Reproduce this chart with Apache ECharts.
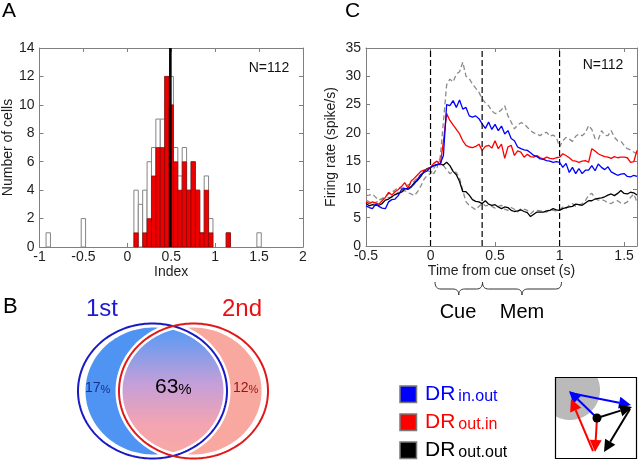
<!DOCTYPE html>
<html><head><meta charset="utf-8">
<script src="https://cdn.jsdelivr.net/npm/echarts@6/dist/echarts.min.js"></script>
<style>html,body{margin:0;padding:0;background:#fff}#c{width:640px;height:461px}</style>
</head><body><div id="c"></div>
<script>
// ---------- Panel A: histogram ----------
const histCenters=[-0.9,-0.5,0.1,0.15,0.2,0.25,0.3,0.35,0.4,0.45,0.5,0.55,0.6,0.65,0.7,0.75,0.8,0.85,0.9,0.95,1.15,1.5];
const allCounts=[1,2,4,3,4,6,7,9,9,12,12,7,5,7,4,6,4,1,5,2,1,1];
const sigCounts=[0,0,1,0,1,2,5,7,7,12,10,6,4,6,4,6,4,1,4,1,1,0];
const binW=0.05;
const medianIndex=0.49;
const xTicksA=[-1,2,0.5];
const yTicksA=[0,14,2];
// ---------- Panel C: firing rate ----------
const timeS=[-0.5,-0.475,-0.45,-0.425,-0.4,-0.375,-0.35,-0.325,-0.3,-0.275,-0.25,-0.225,-0.2,-0.175,-0.15,-0.125,-0.1,-0.075,-0.05,-0.025,
0,0.025,0.05,0.075,0.1,0.125,0.15,0.175,0.2,0.225,0.25,0.275,0.3,0.325,0.35,0.375,0.4,0.425,0.45,0.475,
0.5,0.525,0.55,0.575,0.6,0.625,0.65,0.675,0.7,0.725,0.75,0.775,0.8,0.825,0.85,0.875,0.9,0.925,0.95,0.975,
1,1.025,1.05,1.075,1.1,1.125,1.15,1.175,1.2,1.225,1.25,1.275,1.3,1.325,1.35,1.375,1.4,1.425,1.45,1.475,
1.5,1.525,1.55,1.575,1.6];
const blueInOut=[7.1,6.8,6.6,7.4,7.0,6.7,6.6,7.8,8.2,8.3,8.9,10.0,10.2,10.0,10.4,11.0,11.8,12.6,13.0,13.3,
13.9,14.2,14.4,14.5,16.0,25.0,24.8,25.7,24.5,25.8,24.2,24.5,23.0,22.8,23.0,22.5,21.6,20.8,21.9,20.6,
21.5,20.4,21.2,19.8,20.4,19.0,18.6,17.5,17.2,17.0,16.9,16.5,16.0,15.8,15.4,15.3,15.1,15.0,14.8,14.9,
14.8,13.9,14.6,13.0,13.9,12.8,13.7,12.8,13.4,13.4,14.2,13.3,14.5,13.9,13.5,14.0,13.1,12.8,12.5,12.7,
12.8,12.3,12.2,12.5,12.3];
const redOutIn=[7.8,7.5,7.8,7.6,7.4,8.0,8.6,9.5,9.0,9.6,10.0,10.5,11.2,10.2,11.5,12.0,12.6,13.2,13.4,13.6,
13.9,14.6,15.0,14.3,18.5,23.4,22.2,21.4,20.6,19.8,18.6,17.8,17.5,17.4,17.6,18.0,16.9,17.6,17.8,17.3,
18.6,17.2,18.0,15.5,17.5,17.8,16.0,16.8,16.6,15.7,16.2,15.8,15.7,16.0,15.6,15.4,15.7,15.5,15.4,15.6,
15.7,16.3,16.0,15.6,15.1,15.0,14.8,15.0,15.1,14.8,17.2,16.8,16.3,16.0,15.8,15.7,15.5,15.8,15.6,15.7,
15.7,15.6,14.8,14.9,16.9];
const blackOutOut=[7.5,7.1,7.3,7.2,7.2,7.5,8.1,8.3,8.7,9.1,9.3,9.5,10.1,10.2,10.5,11.2,11.6,12.3,13.2,13.7,
13.9,14.2,14.4,14.5,14.3,14.8,14.2,13.2,12.6,11.4,9.6,9.6,9.0,8.2,7.9,7.8,7.5,8.0,7.4,7.2,
7.3,6.9,6.6,6.9,6.8,6.3,6.1,6.2,6.4,6.1,5.9,5.2,5.6,6.0,6.0,6.0,6.2,6.3,6.6,6.4,
6.3,6.6,6.8,6.9,7.0,7.4,7.3,7.2,7.6,8.0,8.0,8.3,8.4,8.5,8.7,9.0,9.2,8.9,9.3,9.8,
9.3,9.2,9.5,9.4,9.0];
const grayUpper=[8.9,9.0,9.2,8.6,8.1,8.4,8.7,9.2,9.5,9.9,10.4,10.2,10.4,10.8,11.0,11.5,12.1,12.6,13.0,13.3,
13.1,12.8,13.8,15.7,22.0,28.5,29.5,29.0,30.4,30.8,32.5,30.0,29.6,28.6,27.9,27.2,26.0,25.3,24.8,23.9,
23.4,23.6,24.1,24.8,23.0,21.9,20.7,21.4,21.8,21.6,21.0,20.4,20.0,19.8,19.5,20.0,20.1,19.4,19.6,19.2,
17.5,18.6,19.2,18.9,18.5,19.4,19.8,19.5,20.0,21.3,20.6,19.0,18.8,20.4,19.6,19.5,20.4,19.2,18.6,18.5,
17.8,17.2,17.0,16.6,16.3];
const grayLower=[8.1,7.8,7.5,7.7,7.9,8.4,8.4,8.6,8.6,9.0,9.5,9.6,9.8,9.4,9.2,8.9,9.6,10.6,11.8,12.5,
12.8,13.7,14.6,15.1,14.2,13.5,12.8,13.1,13.0,12.0,9.8,7.8,7.2,6.8,6.4,7.0,7.5,7.1,7.2,7.0,
6.7,7.0,7.2,6.5,6.3,6.8,6.5,6.0,6.6,6.5,6.3,5.7,6.2,6.3,6.2,6.1,6.0,6.5,6.3,6.2,
6.4,6.9,6.6,7.2,7.5,7.0,7.2,7.5,8.0,9.0,9.3,8.5,8.1,8.2,8.0,7.6,7.5,7.9,8.0,7.6,
7.5,7.8,8.6,9.2,7.8];
const cueMarks=[0,0.4,1];
const xTicksC=[-0.5,1.6,0.5];
const yTicksC=[0,35,5];
// ---------- Panel B / legend text ----------
const vennLabels=['1st','2nd'];
const vennPct=['17','63','12'];
const legendNames=[['DR','in.out'],['DR','out.in'],['DR','out.out']];
const legendColors=['#0000ff','#ff0000','#000000'];

const FONT='"Liberation Sans", Arial, Helvetica, sans-serif';
const frameColor='#7f7f7f';
const labelColor='#1e1e1e';

function xAx(grid,ext,pos,show,name,gap){
  return {gridIndex:grid,type:'value',min:ext[0],max:ext[1],interval:ext[2],position:pos,
    axisLine:{show:true,onZero:false,lineStyle:{color:frameColor,width:1}},
    axisTick:{show:true,inside:true,length:4,lineStyle:{color:frameColor}},
    splitLine:{show:false},
    axisLabel:{show:show,fontSize:14,color:labelColor,margin:3,fontFamily:FONT,showMaxLabel:grid===0},
    name:name||'',nameLocation:'middle',nameGap:gap||0,
    nameTextStyle:{fontSize:14,color:labelColor,fontFamily:FONT}};
}
function yAx(grid,ext,pos,show,name,gap){
  return {gridIndex:grid,type:'value',min:ext[0],max:ext[1],interval:ext[2],position:pos,
    axisLine:{show:true,onZero:false,lineStyle:{color:frameColor,width:1}},
    axisTick:{show:true,inside:true,length:4,lineStyle:{color:frameColor}},
    splitLine:{show:false},
    axisLabel:{show:show,fontSize:14,color:labelColor,margin:5,fontFamily:FONT},
    name:name||'',nameLocation:'middle',nameGap:gap||0,
    nameTextStyle:{fontSize:14,color:labelColor,fontFamily:FONT}};
}
function barSeries(counts,fill,stroke,lw,z){
  return {type:'custom',xAxisIndex:0,yAxisIndex:0,z:z,silent:true,clip:false,
    data:histCenters.map((c,i)=>[c,counts[i]]).filter(d=>d[1]>0),
    renderItem:function(params,api){
      const c=api.value(0),n=api.value(1);
      const p0=api.coord([c-binW/2,n]),p1=api.coord([c+binW/2,0]);
      return {type:'rect',shape:{x:p0[0],y:p0[1],width:p1[0]-p0[0],height:p1[1]-p0[1]},
        style:{fill:fill,stroke:stroke,lineWidth:lw}};
    }};
}
function lineS(vals,color,dashed,z){
  return {type:'line',xAxisIndex:2,yAxisIndex:2,z:z,data:timeS.map((t,i)=>[t,vals[i]]),
    showSymbol:false,symbol:'none',silent:true,
    lineStyle:{color:color,width:1.3,type:dashed?[5,3]:'solid'},itemStyle:{color:color}};
}
const series=[
  barSeries(allCounts,'#ffffff','#858585',1,2),
  barSeries(sigCounts,'#ee0000','#7a0000',0.6,3),
  {type:'line',xAxisIndex:0,yAxisIndex:0,z:5,data:[[medianIndex,0],[medianIndex,14]],symbol:'none',silent:true,
   lineStyle:{color:'#000',width:2.6}},
  lineS(grayUpper,'#8a8a8a',true,2),
  lineS(grayLower,'#8a8a8a',true,2),
  lineS(blackOutOut,'#000000',false,3),
  lineS(redOutIn,'#ff0000',false,4),
  lineS(blueInOut,'#0000ff',false,5)
];
cueMarks.forEach(m=>series.push({type:'line',xAxisIndex:2,yAxisIndex:2,z:6,data:[[m,0],[m,35]],symbol:'none',silent:true,
  lineStyle:{color:'#000',width:1.2,type:[6,3]}}));

// ---------- graphic helpers ----------
function ell(cx,cy,rx,ry,n){n=n||180;const p=[];for(let i=0;i<n;i++){const a=2*Math.PI*i/n;p.push([cx+rx*Math.cos(a),cy+ry*Math.sin(a)]);}return p;}
function lens(c1,c2,cy,rx,ry){
  const xm=(c1+c2)/2,t0=Math.acos((xm-c1)/rx),p=[];
  for(let i=0;i<=60;i++){const a=-t0+2*t0*i/60;p.push([c1+rx*Math.cos(a),cy+ry*Math.sin(a)]);}
  for(let i=0;i<=60;i++){const a=Math.PI-t0+2*t0*i/60;p.push([c2+rx*Math.cos(a),cy+ry*Math.sin(a)]);}
  return p;
}
function brace(x1,x2,y0,y1,y2){
  const xm=(x1+x2)/2,r=6,pts=[];
  const q=(a,b,c)=>{for(let i=0;i<=8;i++){const t=i/8;pts.push([(1-t)*(1-t)*a[0]+2*(1-t)*t*b[0]+t*t*c[0],(1-t)*(1-t)*a[1]+2*(1-t)*t*b[1]+t*t*c[1]]);}};
  q([x1,y0],[x1,y1],[x1+r,y1]);q([xm-r,y1],[xm,y1],[xm,y2]);q([xm,y2],[xm,y1],[xm+r,y1]);q([x2-r,y1],[x2,y1],[x2,y0]);
  return {type:'polyline',shape:{points:pts},style:{stroke:'#333',lineWidth:1,fill:null}};
}
function arrow(x1,y1,x2,y2,color,hl,hw){
  hl=hl||11;hw=hw||5.5;
  const dx=x2-x1,dy=y2-y1,L=Math.hypot(dx,dy),ux=dx/L,uy=dy/L,bx=x2-ux*hl,by=y2-uy*hl;
  return [{type:'line',z:10,shape:{x1:x1,y1:y1,x2:bx,y2:by},style:{stroke:color,lineWidth:2}},
    {type:'polygon',z:10,shape:{points:[[x2,y2],[bx-uy*hw,by+ux*hw],[bx+uy*hw,by-ux*hw]]},style:{fill:color}}];
}
function txt(x,y,s,size,color,align,extra){
  return Object.assign({type:'text',x:x,y:y,z:20,style:{text:s,fontSize:size,fill:color,fontFamily:FONT,align:align||'center',verticalAlign:'middle'}},extra||{});
}
function richTxt(x,y,a,b,sa,sb,color,pad){
  return {type:'text',x:x,y:y,z:20,style:{text:'{a|'+a+'}{b|'+b+'}',align:'left',verticalAlign:'middle',fontFamily:FONT,
    rich:{a:{fontSize:sa,fill:color,fontFamily:FONT,verticalAlign:'bottom',lineHeight:sa},
          b:{fontSize:sb,fill:color,fontFamily:FONT,verticalAlign:'bottom',lineHeight:sb,padding:[0,0,0,pad||0]}}}};
}

const E1={cx:152.5,cy:391,rx:74.5,ry:67.5}, E2={cx:193.5,cy:391,rx:74.5,ry:67.5};
const g=[];
// panel letters
g.push(txt(2,11,'A',21,'#000','left'));
g.push(txt(3,307,'B',22,'#000','left'));
g.push(txt(345,11,'C',21,'#000','left'));
g.push(txt(269,68,'N=112',14,'#111'));
g.push(txt(603,65,'N=112',14,'#111'));
// Venn
g.push({type:'polygon',shape:{points:ell(153.5,391,68,63.5)},style:{fill:'#4f93f3'}});
g.push({type:'polygon',shape:{points:ell(192.5,391,69,63.5)},style:{fill:'#f9a89f'}});
g.push({type:'polygon',shape:{points:lens(E1.cx,E2.cx,E1.cy,E1.rx,E1.ry)},
  style:{fill:new echarts.graphic.LinearGradient(0,0,0,1,[{offset:0,color:'#509af7'},{offset:0.45,color:'#c69fd8'},{offset:0.75,color:'#f2a4b2'},{offset:1,color:'#f9a9a4'}])}});
g.push({type:'polygon',shape:{points:ell(E1.cx,E1.cy,E1.rx,E1.ry)},style:{fill:null,stroke:'#fff',lineWidth:7}});
g.push({type:'polygon',shape:{points:ell(E2.cx,E2.cy,E2.rx,E2.ry)},style:{fill:null,stroke:'#fff',lineWidth:7}});
g.push({type:'polygon',shape:{points:ell(E1.cx,E1.cy,E1.rx,E1.ry)},style:{fill:null,stroke:'#1a1ac4',lineWidth:2}});
g.push({type:'polygon',shape:{points:ell(E2.cx,E2.cy,E2.rx,E2.ry)},style:{fill:null,stroke:'#e01818',lineWidth:2}});
g.push(txt(102,309,vennLabels[0],24,'#1a1ad6'));
g.push(txt(242,309,vennLabels[1],24,'#e81010'));
g.push(richTxt(85,388,vennPct[0],'%',14,11,'#17308c'));
g.push(richTxt(155,387,vennPct[1],'%',21,15,'#000'));
g.push(richTxt(233,388,vennPct[2],'%',14,11,'#981212'));
// braces and epoch labels
g.push(brace(435,482.5,282,289,295));
g.push(brace(482.5,561.5,282,289,295));
g.push(txt(458,312,'Cue',20,'#000'));
g.push(txt(522,312,'Mem',20,'#000'));
// legend
const legY=[394.5,422.5,450.5];
legendNames.forEach((nm,i)=>{
  g.push({type:'rect',shape:{x:400,y:legY[i]-8.5,width:16.5,height:16.5},style:{fill:legendColors[i],stroke:'#7a7a7a',lineWidth:1.5}});
  g.push(richTxt(425,legY[i],nm[0],nm[1],21,16,legendColors[i],3));
});
// inset
g.push({type:'rect',shape:{x:555.5,y:377.5,width:81,height:81},style:{fill:'#fff'}});
g.push({type:'polygon',shape:{points:ell(570,390,30,30).map(p=>[Math.max(p[0],556),Math.max(p[1],378)])},style:{fill:'#bababa'}});
g.push({type:'rect',z:11,shape:{x:555.5,y:377.5,width:81,height:81},style:{fill:null,stroke:'#000',lineWidth:1.2}});
arrow(597,418,569,391,'#0000ff',12,6).forEach(e=>g.push(e));
arrow(570,393,631,405,'#0000ff',12,6).forEach(e=>g.push(e));
arrow(597,418,595,452,'#ff0000',12,6).forEach(e=>g.push(e));
arrow(593,451,571,399,'#ff0000',12,6).forEach(e=>g.push(e));
arrow(597,418,632,407,'#000',12,6).forEach(e=>g.push(e));
arrow(630,409,604,452,'#000',12,6).forEach(e=>g.push(e));
g.push({type:'circle',z:12,shape:{cx:597,cy:418,r:4.5},style:{fill:'#000'}});

const chart=echarts.init(document.getElementById('c'),null,{renderer:'canvas'});
chart.setOption({
  animation:false,
  backgroundColor:'#fff',
  textStyle:{fontFamily:FONT},
  grid:[{left:38,top:48,width:265,height:199},{left:366,top:48,width:271,height:198}],
  xAxis:[xAx(0,xTicksA,'bottom',true,'Index',17),xAx(0,xTicksA,'top',false),
         xAx(1,xTicksC,'bottom',true,'Time from cue onset (s)',16),xAx(1,xTicksC,'top',false)],
  yAxis:[yAx(0,yTicksA,'left',true,'Number of cells',23),yAx(0,yTicksA,'right',false),
         yAx(1,yTicksC,'left',true,'Firing rate (spike/s)',28),yAx(1,yTicksC,'right',false)],
  series:series,
  graphic:{elements:g}
});
</script></body></html>
